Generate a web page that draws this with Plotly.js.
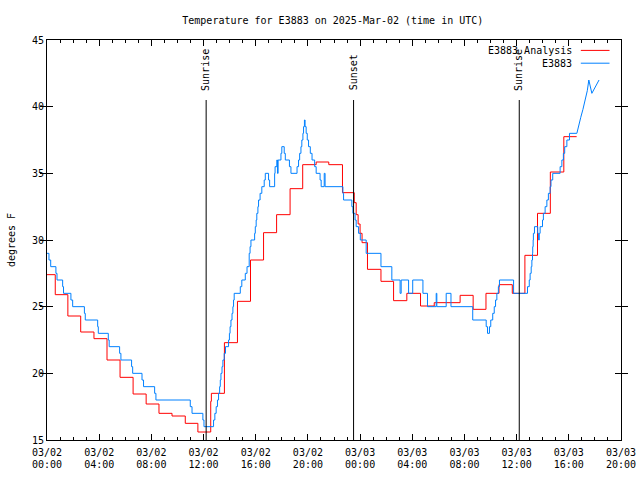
<!DOCTYPE html>
<html>
<head>
<meta charset="utf-8">
<script src="https://cdn.plot.ly/plotly-3.0.1.min.js"></script>
<style>html,body{margin:0;padding:0;background:#fff;}#chart{width:640px;height:480px;}</style>
</head>
<body>
<div id="chart"></div>
<script>
// E3883 Analysis (hourly analysis, drawn as steps)
const analysisTimes = [
  '2025-03-02 00:00','2025-03-02 00:38','2025-03-02 01:36','2025-03-02 02:35','2025-03-02 03:36',
  '2025-03-02 04:36','2025-03-02 05:36','2025-03-02 06:36','2025-03-02 07:36','2025-03-02 08:35',
  '2025-03-02 09:35','2025-03-02 10:36','2025-03-02 11:34','2025-03-02 12:33','2025-03-02 12:36',
  '2025-03-02 13:36','2025-03-02 14:36','2025-03-02 15:36','2025-03-02 16:36','2025-03-02 17:36',
  '2025-03-02 18:38','2025-03-02 19:36','2025-03-02 20:38','2025-03-02 21:36','2025-03-02 22:39',
  '2025-03-02 23:33','2025-03-02 23:42','2025-03-02 23:51','2025-03-03 00:00','2025-03-03 00:09',
  '2025-03-03 00:34','2025-03-03 01:36','2025-03-03 02:34','2025-03-03 03:35','2025-03-03 04:38',
  '2025-03-03 05:41','2025-03-03 07:40','2025-03-03 08:40','2025-03-03 09:39','2025-03-03 10:39',
  '2025-03-03 11:40','2025-03-03 12:38','2025-03-03 13:36','2025-03-03 14:35','2025-03-03 15:37',
  '2025-03-03 16:36'
];
const analysisTemps = [
  27.4, 25.9, 24.3, 23.1, 22.6,
  21.0, 19.7, 18.45, 17.7, 17.0,
  16.8, 16.25, 15.6, 17.9, 18.5,
  22.3, 25.4, 28.5, 30.55, 31.9,
  33.85, 35.65, 35.85, 35.65, 33.55,
  32.8, 31.9, 31.2, 30.5, 29.8,
  27.8, 26.9, 25.45, 26.0, 25.05,
  25.3, 25.85, 24.8, 26.0, 26.65,
  26.0, 28.85, 32.0, 35.1, 37.75,
  37.75
];

// E3883 observations
const obsTimes = [
  '2025-03-02 00:00','2025-03-02 00:09','2025-03-02 00:17','2025-03-02 00:41','2025-03-02 00:46',
  '2025-03-02 01:12','2025-03-02 01:16','2025-03-02 01:50','2025-03-02 01:58','2025-03-02 02:52',
  '2025-03-02 02:56','2025-03-02 03:53','2025-03-02 03:56','2025-03-02 04:42','2025-03-02 04:46',
  '2025-03-02 05:34','2025-03-02 05:40','2025-03-02 06:29','2025-03-02 06:34','2025-03-02 07:17',
  '2025-03-02 07:24','2025-03-02 08:15','2025-03-02 08:21','2025-03-02 10:59','2025-03-02 11:07',
  '2025-03-02 11:57','2025-03-02 12:02','2025-03-02 12:46','2025-03-02 12:52','2025-03-02 12:58',
  '2025-03-02 13:04','2025-03-02 13:09','2025-03-02 13:14','2025-03-02 13:17','2025-03-02 13:20',
  '2025-03-02 13:25','2025-03-02 13:29','2025-03-02 13:35','2025-03-02 13:41','2025-03-02 13:55',
  '2025-03-02 13:59','2025-03-02 14:02','2025-03-02 14:06','2025-03-02 14:11','2025-03-02 14:15',
  '2025-03-02 14:18','2025-03-02 14:21','2025-03-02 14:49','2025-03-02 14:56','2025-03-02 15:12',
  '2025-03-02 15:20','2025-03-02 15:30','2025-03-02 15:34','2025-03-02 15:38','2025-03-02 15:55',
  '2025-03-02 15:58','2025-03-02 16:02','2025-03-02 16:05','2025-03-02 16:10','2025-03-02 16:13',
  '2025-03-02 16:20','2025-03-02 16:28','2025-03-02 16:39','2025-03-02 16:44','2025-03-02 16:59',
  '2025-03-02 17:04','2025-03-02 17:27','2025-03-02 17:29','2025-03-02 17:37','2025-03-02 17:40',
  '2025-03-02 17:43','2025-03-02 17:56','2025-03-02 18:00','2025-03-02 18:11','2025-03-02 18:16',
  '2025-03-02 18:35','2025-03-02 18:42','2025-03-02 19:10','2025-03-02 19:17','2025-03-02 19:22',
  '2025-03-02 19:28','2025-03-02 19:32','2025-03-02 19:37','2025-03-02 19:40','2025-03-02 19:44',
  '2025-03-02 19:47','2025-03-02 19:52','2025-03-02 19:57','2025-03-02 20:03','2025-03-02 20:11',
  '2025-03-02 20:19','2025-03-02 20:31','2025-03-02 20:38','2025-03-02 20:56','2025-03-02 21:01',
  '2025-03-02 21:15','2025-03-02 21:19','2025-03-02 22:41','2025-03-02 22:44','2025-03-02 23:22',
  '2025-03-02 23:27','2025-03-02 23:37','2025-03-02 23:42','2025-03-02 23:53','2025-03-03 00:01',
  '2025-03-03 00:28','2025-03-03 01:36','2025-03-03 02:26','2025-03-03 03:04','2025-03-03 03:09',
  '2025-03-03 03:43','2025-03-03 04:02','2025-03-03 04:49','2025-03-03 05:10','2025-03-03 05:50',
  '2025-03-03 05:53','2025-03-03 06:36','2025-03-03 06:58','2025-03-03 08:38','2025-03-03 09:40',
  '2025-03-03 09:46','2025-03-03 09:55','2025-03-03 10:01','2025-03-03 10:10','2025-03-03 10:17',
  '2025-03-03 10:23','2025-03-03 10:29','2025-03-03 10:36','2025-03-03 10:41','2025-03-03 11:46',
  '2025-03-03 12:50','2025-03-03 12:58','2025-03-03 13:02','2025-03-03 13:07','2025-03-03 13:10',
  '2025-03-03 13:13','2025-03-03 13:14','2025-03-03 13:16','2025-03-03 13:17','2025-03-03 13:22',
  '2025-03-03 13:37','2025-03-03 13:41','2025-03-03 13:44','2025-03-03 13:48','2025-03-03 13:59',
  '2025-03-03 14:03','2025-03-03 14:11','2025-03-03 14:19','2025-03-03 14:26','2025-03-03 14:34',
  '2025-03-03 14:38','2025-03-03 14:46','2025-03-03 15:20','2025-03-03 15:28','2025-03-03 15:35',
  '2025-03-03 15:41','2025-03-03 15:51','2025-03-03 16:03','2025-03-03 16:37'
];
const obsTemps = [
  29.0, 28.5, 28.0, 27.5, 27.0,
  26.5, 26.0, 25.5, 25.0, 24.5,
  24.0, 23.5, 23.0, 22.5, 22.0,
  21.5, 21.0, 20.5, 20.0, 19.5,
  19.0, 18.5, 18.0, 17.5, 17.0,
  16.5, 16.0, 16.5, 17.0, 17.5,
  18.0, 18.5, 19.0, 19.5, 20.0,
  20.5, 21.0, 21.5, 22.0, 22.5,
  23.0, 23.5, 24.0, 24.5, 25.0,
  25.5, 26.0, 26.5, 27.0, 27.5,
  28.0, 29.0, 29.5, 30.0, 30.5,
  31.0, 31.5, 32.0, 32.5, 33.0,
  33.5, 34.0, 34.5, 35.0, 34.5,
  34.0, 35.0, 35.5, 36.0, 35.0,
  36.0, 36.5, 37.0, 36.5, 36.0,
  35.5, 35.0, 35.5, 36.0, 36.5,
  37.0, 37.5, 38.0, 38.5, 39.0,
  38.5, 38.0, 37.5, 37.0, 36.5,
  36.0, 35.5, 35.0, 34.5, 34.0,
  35.0, 34.0, 33.5, 33.0, 32.5,
  32.0, 31.5, 31.0, 30.5, 30.0,
  29.0, 28.0, 27.0, 26.0, 27.0,
  26.0, 27.0, 26.0, 25.0, 26.0,
  25.0, 26.0, 25.0, 24.0, 23.5,
  23.0, 23.5, 24.0, 24.5, 25.0,
  25.5, 26.0, 26.5, 27.0, 26.0,
  26.5, 27.0, 27.5, 28.0, 28.5,
  29.0, 29.5, 30.0, 30.5, 31.0,
  30.5, 30.0, 30.5, 31.0, 31.5,
  32.0, 32.5, 33.0, 33.5, 34.0,
  34.5, 35.0, 35.5, 36.0, 36.5,
  37.0, 37.5, 38.0, 38.0
];
// last observations (sparser, drawn as straight segments)
const obsTailTimes = ['2025-03-03 16:37','2025-03-03 16:45','2025-03-03 16:55','2025-03-03 17:05','2025-03-03 17:15','2025-03-03 17:25','2025-03-03 17:32','2025-03-03 17:46','2025-03-03 18:19'];
const obsTailTemps = [38.0, 38.6, 39.2, 39.8, 40.5, 41.2, 42.0, 41.0, 42.0];

// Sun events
const eventNames = ['Sunrise', 'Sunset', 'Sunrise'];
const eventTimes = ['2025-03-02 12:12', '2025-03-02 23:30', '2025-03-03 12:12'];

// Axis ticks
const xTickVals = ['2025-03-02 00:00','2025-03-02 04:00','2025-03-02 08:00','2025-03-02 12:00','2025-03-02 16:00','2025-03-02 20:00',
                   '2025-03-03 00:00','2025-03-03 04:00','2025-03-03 08:00','2025-03-03 12:00','2025-03-03 16:00','2025-03-03 20:00'];
const xTickDates = ['03/02','03/02','03/02','03/02','03/02','03/02','03/03','03/03','03/03','03/03','03/03','03/03'];
const xTickClock = ['00:00','04:00','08:00','12:00','16:00','20:00','00:00','04:00','08:00','12:00','16:00','20:00'];
const yTickVals = [15, 20, 25, 30, 35, 40, 45];
const xRange = ['2025-03-02 00:00', '2025-03-03 20:00'];
const yRange = [15, 45];

const seriesNames = ['E3883 Analysis', 'E3883'];
const seriesColors = ['#ff0000', '#0080ff'];

const FONT = 'DejaVu Sans Mono, monospace';

const traces = [
  {x: analysisTimes, y: analysisTemps, type: 'scatter', mode: 'lines', name: seriesNames[0],
   line: {color: seriesColors[0], width: 1, shape: 'hv'}, showlegend: false},
  {x: obsTimes, y: obsTemps, type: 'scatter', mode: 'lines', name: seriesNames[1],
   line: {color: seriesColors[1], width: 1, shape: 'hv'}, showlegend: false},
  {x: obsTailTimes, y: obsTailTemps, type: 'scatter', mode: 'lines', name: seriesNames[1],
   line: {color: seriesColors[1], width: 1, shape: 'linear'}, showlegend: false},
  // invisible helper so the second (time-of-day label) axis gets drawn
  {x: xRange, y: yRange, xaxis: 'x2', yaxis: 'y', type: 'scatter', mode: 'lines',
   line: {width: 0}, opacity: 0, hoverinfo: 'skip', showlegend: false}
];

const shapes = [];
const annotations = [];
eventTimes.forEach((t, i) => {
  shapes.push({type: 'line', xref: 'x', yref: 'paper', x0: t, x1: t, y0: 0, y1: 0.85,
               line: {color: '#000', width: 1}, layer: 'above'});
  annotations.push({xref: 'x', yref: 'paper', x: t, y: 0.868, text: eventNames[i], textangle: -90,
                    showarrow: false, xanchor: 'center', yanchor: 'bottom',
                    font: {family: FONT, size: 10, color: '#000'}});
});
// legend (gnuplot style: text then sample line)
const legendY = [0.974, 0.942];
seriesNames.forEach((n, i) => {
  annotations.push({xref: 'paper', yref: 'paper', x: 0.918, y: legendY[i], text: n, showarrow: false,
                    xanchor: 'right', yanchor: 'middle', font: {family: FONT, size: 10, color: '#000'}});
  shapes.push({type: 'line', xref: 'paper', yref: 'paper', x0: 0.930, x1: 0.980, y0: legendY[i], y1: legendY[i],
               line: {color: seriesColors[i], width: 1}});
});

const tickFont = {family: FONT, size: 10, color: '#000'};

const layout = {
  width: 640, height: 480,
  margin: {l: 47, r: 19, t: 40, b: 40},
  paper_bgcolor: '#fff', plot_bgcolor: '#fff',
  font: {family: FONT, size: 10, color: '#000'},
  title: {text: 'Temperature for E3883 on 2025-Mar-02 (time in UTC)', x: 0.52, xanchor: 'center',
          y: 0.958, yanchor: 'middle', font: {family: FONT, size: 10, color: '#000'}},
  showlegend: false,
  xaxis: {
    type: 'date', range: xRange,
    tickmode: 'array', tickvals: xTickVals, ticktext: xTickDates, ticklabelstandoff: 3,
    ticks: 'inside', ticklen: 6, tickcolor: '#000', tickwidth: 1,
    minor: {tickmode: 'linear', tick0: '2025-03-02 00:00', dtick: 3600000, ticks: 'inside', ticklen: 3, tickcolor: '#000', showgrid: false},
    showline: true, linecolor: '#000', linewidth: 1, mirror: 'allticks',
    showgrid: false, zeroline: false, fixedrange: true,
    tickfont: tickFont
  },
  xaxis2: {
    type: 'date', range: xRange, overlaying: 'x', side: 'bottom', anchor: 'y',
    tickmode: 'array', tickvals: xTickVals, ticktext: xTickClock, ticklabelstandoff: 17,
    ticks: '', showline: false, showgrid: false, zeroline: false, fixedrange: true,
    tickfont: tickFont
  },
  yaxis: {
    range: yRange, tickmode: 'array', tickvals: yTickVals,
    ticks: 'inside', ticklen: 6, tickcolor: '#000', tickwidth: 1,
    showline: true, linecolor: '#000', linewidth: 1, mirror: 'allticks',
    showgrid: false, zeroline: false, fixedrange: true,
    tickfont: tickFont,
    title: {text: 'degrees F', standoff: 14, font: {family: FONT, size: 10, color: '#000'}}
  },
  shapes: shapes,
  annotations: annotations
};

Plotly.newPlot('chart', traces, layout, {staticPlot: true, displayModeBar: false});
</script>
</body>
</html>
